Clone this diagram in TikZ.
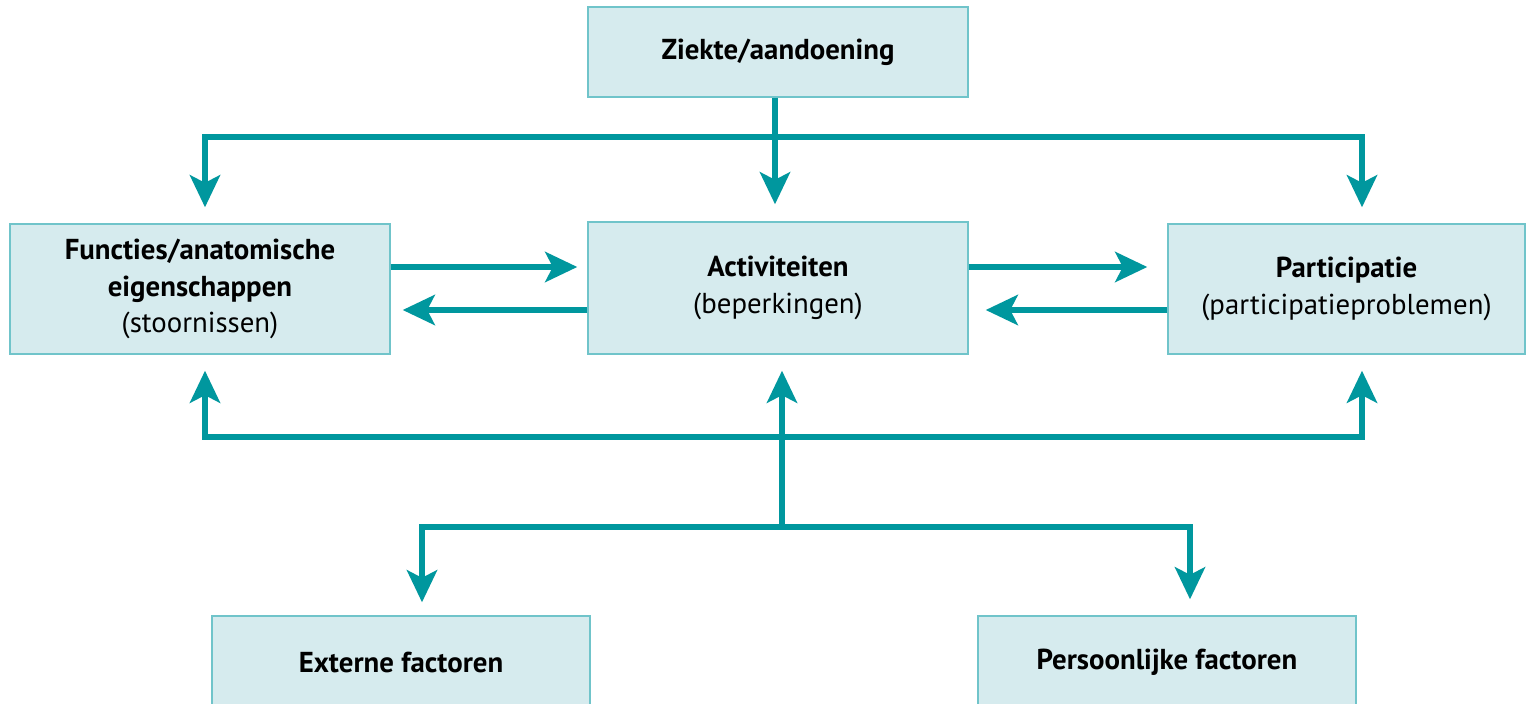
\documentclass[tikz,border=0pt]{standalone}
\usepackage{fontspec}
\setmainfont{PT Sans}
\usetikzlibrary{arrows.meta}
\definecolor{icfteal}{RGB}{0,151,158}
\definecolor{icffill}{RGB}{214,235,238}
\definecolor{icfline}{RGB}{112,196,202}

\begin{document}
\begin{tikzpicture}[box/.style={draw=icfline, fill=icffill, thick, minimum width=7.6cm, align=center, font=\fontsize{16.4}{21}\selectfont},
    arr/.style={draw=icfteal, line width=3.4pt, line join=miter, -{Stealth[length=0.64cm,width=0.6cm,inset=0.15cm]}},
    lin/.style={draw=icfteal, line width=3.4pt}]
    \fill[white] (0,0) rectangle (30.52,-14.06);
    \useasboundingbox (0,0) rectangle (30.52,-14.06);

    \node[box, minimum height=1.8cm] (ziekte) at (15.56,-1.04) {\textbf{Ziekte/aandoening}};
    \node[box, minimum height=2.6cm] (functies) at (4.0,-5.78) {\textbf{Functies/anatomische}\\\textbf{eigenschappen}\\(stoornissen)};
    \node[box, minimum height=2.64cm] (activ) at (15.56,-5.76) {\textbf{Activiteiten}\\(beperkingen)};
    \node[box, minimum width=7.14cm, minimum height=2.6cm] (partic) at (26.93,-5.78) {\textbf{Participatie}\\(participatieproblemen)};
    \node[box, minimum width=7.56cm, minimum height=1.84cm] (extern) at (8.02,-13.24) {\textbf{Externe factoren}};
    \node[box, minimum width=7.56cm, minimum height=1.84cm] (persoon) at (23.34,-13.24) {\textbf{Persoonlijke factoren}};

    % verdeling vanuit ziekte
    \coordinate (top) at (15.5,-2.74);
    \coordinate (topL) at (4.1,-2.74);
    \coordinate (topR) at (27.24,-2.74);
    \draw[lin] (ziekte.south -| top) -- (top);
    \draw[arr, shorten >=0.32cm] (topR) -- (topL) -- (topL |- functies.north);
    \draw[arr, shorten >=0.32cm] (topL) -- (topR) -- (topR |- partic.north);
    \draw[arr, shorten >=0.34cm] (top) -- (top |- activ.north);

    % wisselwerking tussen de middelste vakken
    \draw[arr, shorten >=0.2cm] ([yshift=0.44cm]functies.east) -- ([yshift=0.44cm]functies.east -| activ.west);
    \draw[arr, shorten >=0.24cm] ([yshift=-0.44cm]activ.west) -- ([yshift=-0.44cm]activ.west -| functies.east);
    \draw[arr, shorten >=0.4cm] ([yshift=0.42cm]activ.east) -- ([yshift=0.42cm]activ.east -| partic.west);
    \draw[arr, shorten >=0.34cm] ([yshift=-0.42cm]partic.west) -- ([yshift=-0.42cm]partic.west -| activ.east);

    % terugkoppeling vanuit de factoren
    \coordinate (bot) at (15.64,-10.54);
    \coordinate (botL) at (8.44,-10.54);
    \coordinate (botR) at (23.8,-10.54);
    \coordinate (midL) at (4.1,-8.74);
    \coordinate (midR) at (27.24,-8.74);
    \draw[arr, shorten >=0.32cm] (bot) -- (bot |- activ.south);
    \draw[arr, shorten >=0.32cm] (midR) -- (midL) -- (midL |- functies.south);
    \draw[arr, shorten >=0.32cm] (midL) -- (midR) -- (midR |- partic.south);
    \draw[arr, shorten >=0.26cm] (botR) -- (botL) -- (botL |- extern.north);
    \draw[arr, shorten >=0.32cm] (botL) -- (botR) -- (botR |- persoon.north);
\end{tikzpicture}
\end{document}
